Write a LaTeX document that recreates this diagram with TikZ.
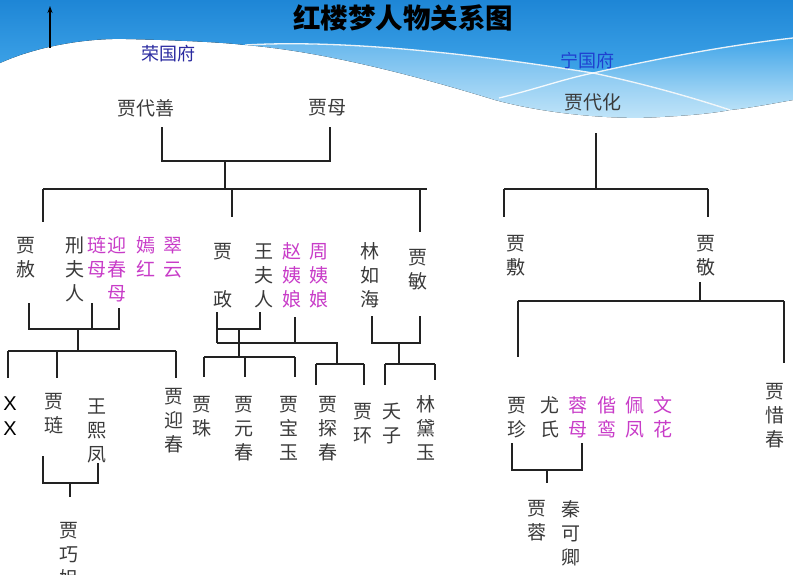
\documentclass[tikz,border=0pt]{standalone}
\usepackage{fontspec}
\newfontfamily\cjk{Noto Sans CJK SC}
\newfontfamily\latf{Liberation Sans}
\usetikzlibrary{arrows.meta}
\definecolor{txtgray}{HTML}{3A3A3A}
\definecolor{pinkc}{HTML}{C83CC8}
\definecolor{linec}{HTML}{222222}
\definecolor{bluedark}{HTML}{1E86D6}
\definecolor{bluemid}{HTML}{3FA4E8}
\definecolor{bluelight}{HTML}{A8DAF6}
\definecolor{rongc}{HTML}{2A2AA0}
\definecolor{ningc}{HTML}{1F40D0}
\tikzset{
  nm/.style={anchor=north, inner sep=0pt, align=center, text=txtgray, font=\cjk\fontsize{19}{24}\selectfont},
  pk/.style={nm, text=pinkc},
  hn/.style={anchor=center, inner sep=0pt, text=txtgray, font=\cjk\fontsize{19}{24}\selectfont},
  ln/.style={line width=1.6pt, draw=linec},
  wline/.style={draw=white, line width=1.3pt, opacity=0.9},
}
\begin{document}
\begin{tikzpicture}[x=1pt,y=-1pt]
\clip (0,0) rectangle (793,574);
\fill[white] (0,0) rectangle (793,574);
% ---- banner ----
\fill[top color=bluemid!80, bottom color=bluelight!70]
  (245,45) .. controls (330,40) and (450,50) .. (593,73)
  .. controls (650,85) and (700,100) .. (730,110)
  .. controls (720,112) and (700,115) .. (660,117)
  .. controls (620,120) and (550,115) .. (495,100)
  .. controls (430,80) and (330,52) .. (245,45) -- cycle;
\fill[top color=bluemid, bottom color=bluelight!80]
  (593,73) .. controls (660,58) and (730,45) .. (793,38)
  -- (793,100) .. controls (770,104) and (750,108) .. (730,110)
  .. controls (700,100) and (650,85) .. (593,73) -- cycle;
\fill[top color=bluedark, bottom color=bluemid]
  (0,0) -- (793,0) -- (793,38)
  .. controls (730,45) and (660,58) .. (593,73)
  .. controls (450,50) and (330,40) .. (245,45)
  .. controls (220,42) and (170,40) .. (126,39)
  .. controls (90,38) and (40,45) .. (0,63) -- cycle;
\draw[wline] (245,45) .. controls (330,40) and (450,50) .. (593,73)
  .. controls (650,85) and (700,100) .. (730,110);
\draw[wline] (499,98) .. controls (540,88) and (560,80) .. (593,73)
  .. controls (660,58) and (730,45) .. (793,38);
\coordinate (arrowbase) at (50,48);
\coordinate (arrowtip) at (50,6);
\draw[line width=1.2pt, -{Stealth[length=7pt,width=5pt]}] (arrowbase) -- (arrowtip);
\node[inner sep=0pt, font=\cjk\bfseries\fontsize{27.5}{30}\selectfont] (title) at (403,18) {红楼梦人物关系图};
\node[inner sep=0pt, text=rongc, font=\cjk\fontsize{18}{20}\selectfont] (rong) at (168,54) {荣国府};
\node[inner sep=0pt, text=ningc, font=\cjk\fontsize{18}{20}\selectfont] (ning) at (587,61) {宁国府};
% ---- generation 1 ----
\node[hn] (jds) at (146,108) {贾代善};
\node[hn] (jm) at (327,108) {贾母};
\node[hn] (jdh) at (593,102) {贾代化};
% ---- generation 2 ----
\node[nm] (jiashe) at (26,235.4) {\strut 贾\\赦};
\node[nm] (xing) at (75,235.4) {\strut 刑\\夫\\人};
\node[pk] (lianmu) at (97,235.4) {\strut 琏\\母};
\node[pk] (ycmu) at (117,235.4) {\strut 迎\\春\\母};
\node[pk] (yanhong) at (146,235.4) {\strut 嫣\\红};
\node[pk] (cuiyun) at (173,235.4) {\strut 翠\\云};
\node[nm] (jiazheng) at (223,241.4) {\strut 贾\\~\\政};
\node[nm] (wangfr) at (264,241.4) {\strut 王\\夫\\人};
\node[pk] (zhaoyn) at (292,241.4) {\strut 赵\\姨\\娘};
\node[pk] (zhouyn) at (319,241.4) {\strut 周\\姨\\娘};
\node[nm] (linrh) at (370,241.4) {\strut 林\\如\\海};
\node[nm] (jiamin) at (418,247.4) {\strut 贾\\敏};
\node[nm] (jiafu) at (516,233.4) {\strut 贾\\敷};
\node[nm] (jiajing) at (706,233.4) {\strut 贾\\敬};
% ---- generation 3 ----
\node[anchor=north, inner sep=0pt, align=center, text=black, font=\latf\fontsize{20}{25}\selectfont] (xx) at (10,392.7) {\strut X\\X};
\node[nm] (jialian) at (54,391.4) {\strut 贾\\琏};
\node[nm] (wangxf) at (97,396.4) {\strut 王\\熙\\凤};
\node[nm] (jiaych) at (174,386.4) {\strut 贾\\迎\\春};
\node[nm] (jiazhu) at (202,394.4) {\strut 贾\\珠};
\node[nm] (jiayuc) at (244,394.4) {\strut 贾\\元\\春};
\node[nm] (jiabaoyu) at (289,394.4) {\strut 贾\\宝\\玉};
\node[nm] (jiatanc) at (328,394.4) {\strut 贾\\探\\春};
\node[nm] (jiahuan) at (363,401.4) {\strut 贾\\环};
\node[nm] (yaozi) at (392,401.4) {\strut 夭\\子};
\node[nm] (lindy) at (426,394.4) {\strut 林\\黛\\玉};
\node[nm] (jiaqj) at (69,520.4) {\strut 贾\\巧\\姐};
\node[nm] (jiazhen) at (517,395.4) {\strut 贾\\珍};
\node[nm] (youshi) at (550,395.4) {\strut 尤\\氏};
\node[pk] (rongmu) at (578,395.4) {\strut 蓉\\母};
\node[pk] (xieluan) at (607,395.4) {\strut 偕\\鸾};
\node[pk] (peifeng) at (635,395.4) {\strut 佩\\凤};
\node[pk] (wenhua) at (663,395.4) {\strut 文\\花};
\node[nm] (jiaxc) at (775,381.4) {\strut 贾\\惜\\春};
\node[nm] (jiarong) at (537,498.4) {\strut 贾\\蓉};
\node[nm] (qinkq) at (571,499.4) {\strut 秦\\可\\卿};
% ---- connectors: Rongguo ----
\draw[ln] (162,127) -- (162,161) -- (330,161) -- (330,127);
\draw[ln] (225,161) -- (225,189);
\draw[ln] (43,189) -- (427,189);
\draw[ln] (43,189) -- (43,222);
\draw[ln] (232,189) -- (232,217);
\draw[ln] (420,189) -- (420,232);
% left family
\draw[ln] (29,303) -- (29,329) -- (119,329) -- (119,308);
\draw[ln] (92,303) -- (92,329);
\draw[ln] (78,329) -- (78,351);
\draw[ln] (8,351) -- (176,351);
\draw[ln] (8,351) -- (8,378);
\draw[ln] (57,351) -- (57,378);
\draw[ln] (176,351) -- (176,378);
\draw[ln] (43,456) -- (43,483) -- (98,483) -- (98,463);
\draw[ln] (70,483) -- (70,497);
% middle family
\draw[ln] (217,312) -- (217,343);
\draw[ln] (217,329) -- (260,329) -- (260,312);
\draw[ln] (239,329) -- (239,357);
\draw[ln] (204,357) -- (295,357);
\draw[ln] (204,357) -- (204,377);
\draw[ln] (245,357) -- (245,377);
\draw[ln] (295,357) -- (295,377);
\draw[ln] (295,317) -- (295,343);
\draw[ln] (217,343) -- (337,343) -- (337,364);
\draw[ln] (316,364) -- (364,364);
\draw[ln] (316,364) -- (316,385);
\draw[ln] (364,364) -- (364,385);
\draw[ln] (372,316) -- (372,343) -- (420,343) -- (420,316);
\draw[ln] (399,343) -- (399,364);
\draw[ln] (385,364) -- (435,364);
\draw[ln] (385,364) -- (385,385);
\draw[ln] (435,364) -- (435,380);
% ---- connectors: Ningguo ----
\draw[ln] (596,133) -- (596,189);
\draw[ln] (504,189) -- (708,189);
\draw[ln] (504,189) -- (504,217);
\draw[ln] (708,189) -- (708,217);
\draw[ln] (700,282) -- (700,301);
\draw[ln] (518,301) -- (784,301);
\draw[ln] (518,301) -- (518,357);
\draw[ln] (784,301) -- (784,363);
\draw[ln] (512,443) -- (512,470) -- (582,470) -- (582,443);
\draw[ln] (547,470) -- (547,483);
\end{tikzpicture}
\end{document}
